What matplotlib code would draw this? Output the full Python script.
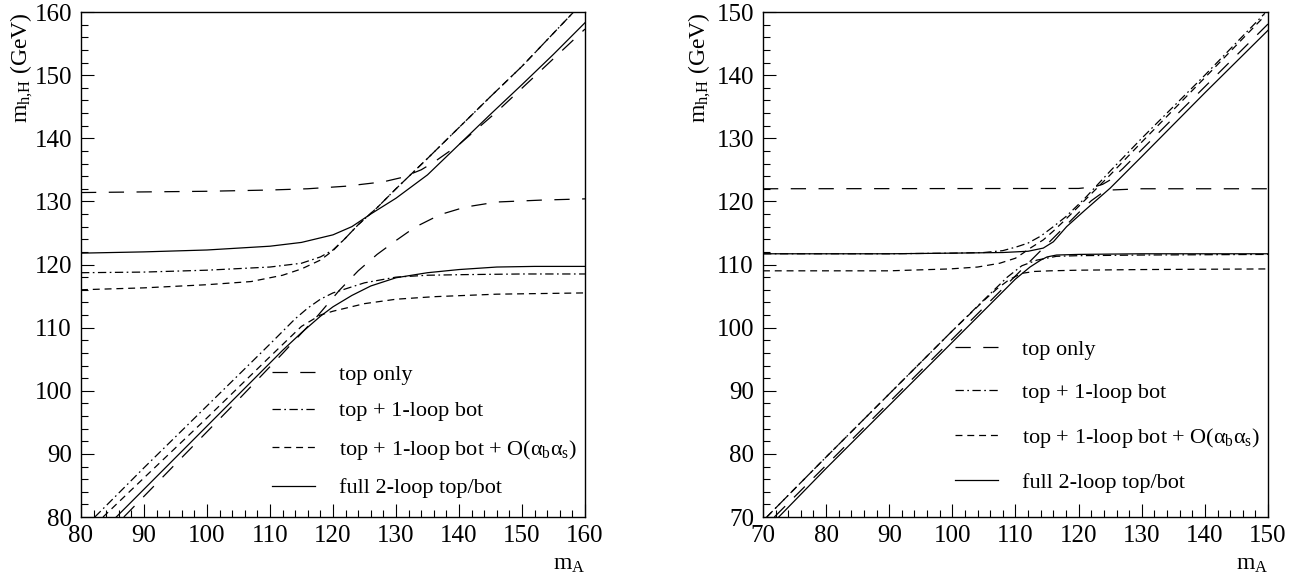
import matplotlib
matplotlib.use("Agg")
import matplotlib.pyplot as plt
from matplotlib.lines import Line2D
from matplotlib.ticker import MultipleLocator

plt.rcParams["font.family"] = ["Liberation Serif", "DejaVu Serif"]
plt.rcParams["mathtext.fontset"] = "custom"
plt.rcParams["mathtext.rm"] = "Liberation Serif"
plt.rcParams["mathtext.it"] = "Liberation Serif"
plt.rcParams["mathtext.bf"] = "Liberation Serif:bold"
plt.rcParams["lines.scale_dashes"] = False

# ---------------- left panel: m_A 80..160 ----------------
# top only
l_top_hi_x = [80, 90, 100, 110, 116, 122, 128, 131, 134, 136, 140, 146, 152, 160]
l_top_hi_y = [131.4, 131.5, 131.6, 131.8, 132.0, 132.4, 133.1, 133.8, 135.0, 136.2, 139.0, 144.2, 149.8, 157.3]
l_top_lo_x = [86.8, 95, 105, 112, 117.5, 121, 124, 127, 130, 133, 137, 141, 146, 153, 160]
l_top_lo_y = [80, 88.4, 98.6, 105.9, 111.8, 115.9, 119.0, 121.6, 123.8, 125.9, 127.9, 129.1, 129.9, 130.2, 130.4]
# top + 1-loop bot
l_b1_hi_x = [80, 90, 100, 110, 115, 118, 120, 122, 124, 127, 130, 135, 140, 145, 150, 158.2]
l_b1_hi_y = [118.7, 118.8, 119.1, 119.6, 120.2, 121.2, 122.3, 124.2, 126.3, 129.0, 132.0, 136.8, 141.7, 146.6, 151.4, 160]
l_b1_lo_x = [82.2, 90, 100, 110, 114, 116, 118, 120, 125, 130, 135, 141, 150, 160]
l_b1_lo_y = [80, 87.8, 97.6, 107.4, 111.4, 113.1, 114.5, 115.5, 117.1, 118.0, 118.3, 118.4, 118.5, 118.5]
# top + 1-loop bot + O(ab as)
l_ab_hi_x = [80, 90, 100, 107, 112, 115, 118, 120, 122, 124, 127, 130, 135, 140, 145, 150, 158.2]
l_ab_hi_y = [116.0, 116.3, 116.8, 117.3, 118.3, 119.3, 120.7, 122.2, 124.2, 126.3, 129.0, 132.0, 136.8, 141.7, 146.6, 151.4, 160]
l_ab_lo_x = [83.5, 90, 100, 110, 115, 118, 120, 125, 130, 136, 146, 160]
l_ab_lo_y = [80, 86.2, 95.7, 105.4, 110.2, 112.0, 112.6, 113.8, 114.5, 114.9, 115.3, 115.5]
# full 2-loop top/bot
l_full_hi_x = [80, 90, 100, 110, 115, 120, 123, 126, 130, 135, 140, 145, 150, 155, 160]
l_full_hi_y = [121.8, 122.0, 122.3, 122.9, 123.5, 124.7, 126.0, 128.0, 130.5, 134.2, 139.0, 143.8, 148.5, 153.3, 158.3]
l_full_lo_x = [85.6, 95, 105, 112, 115, 118, 120, 123, 126, 130, 135, 140, 146, 152, 160]
l_full_lo_y = [80, 89.4, 99.4, 106.4, 109.2, 111.8, 113.3, 115.1, 116.6, 117.9, 118.7, 119.2, 119.6, 119.7, 119.7]

# ---------------- right panel: m_A 70..150 ----------------
r_top_hi_x = [70, 120, 122.5, 123.8, 125, 127, 135, 150]
r_top_hi_y = [122.0, 122.05, 122.3, 122.7, 123.4, 125.2, 133.2, 148.1]
r_top_lo_x = [71.8, 90, 110, 120, 122, 123.8, 125, 130, 150]
r_top_lo_y = [70, 88.2, 108.2, 118.2, 120.1, 121.4, 121.8, 122.0, 122.0]
r_b1_hi_x = [70, 90, 100, 105, 108, 110.2, 112, 114, 116, 118, 121, 125, 130, 140, 149.5]
r_b1_hi_y = [111.7, 111.7, 111.8, 111.9, 112.2, 112.8, 113.4, 114.5, 116.0, 117.6, 120.5, 124.8, 130.0, 140.0, 149.8]
r_b1_lo_x = [70.6, 80, 90, 100, 105, 108.7, 111, 113.4, 116.5, 120, 130, 150]
r_b1_lo_y = [70, 79.5, 89.5, 99.5, 104.4, 108.0, 109.8, 110.7, 111.3, 111.4, 111.5, 111.6]
r_ab_hi_x = [70, 90, 99.6, 104, 107.5, 110, 111.2, 112.5, 114.4, 116, 118, 121, 125, 130, 140, 149.5]
r_ab_hi_y = [109.0, 109.0, 109.3, 109.6, 110.2, 111.0, 111.8, 112.7, 113.9, 115.3, 117.2, 120.2, 124.2, 129.4, 139.6, 149.4]
r_ab_lo_x = [70.6, 80, 90, 100, 105, 107, 109, 111, 113, 115.5, 120, 130, 150]
r_ab_lo_y = [70, 79.5, 89.5, 99.5, 104.3, 106.1, 107.6, 108.6, 108.9, 109.0, 109.1, 109.2, 109.3]
r_full_hi_x = [70, 90, 100, 108, 112, 114.4, 116, 118.1, 121, 125, 130, 140, 150]
r_full_hi_y = [111.7, 111.7, 111.8, 111.9, 112.1, 112.6, 113.6, 116.0, 118.6, 122.1, 127.1, 137.2, 147.1]
r_full_lo_x = [72.5, 80, 90, 100, 106, 110, 112.3, 114, 115, 116.5, 120, 130, 150]
r_full_lo_y = [70, 77.7, 87.7, 97.7, 103.7, 107.7, 109.6, 110.7, 111.2, 111.5, 111.6, 111.7, 111.7]

labels = ["top only", "top + 1-loop bot",
          r"top + 1-loop bot + O($\alpha_\mathrm{b}\alpha_\mathrm{s}$)",
          "full 2-loop top/bot"]
styles = [(0, (11, 9)), (0, (6, 2.5, 1.2, 2.5)), (0, (5, 3.5)), "-"]

left_curves = [
    [(l_top_hi_x, l_top_hi_y), (l_top_lo_x, l_top_lo_y)],
    [(l_b1_hi_x, l_b1_hi_y), (l_b1_lo_x, l_b1_lo_y)],
    [(l_ab_hi_x, l_ab_hi_y), (l_ab_lo_x, l_ab_lo_y)],
    [(l_full_hi_x, l_full_hi_y), (l_full_lo_x, l_full_lo_y)],
]
right_curves = [
    [(r_top_hi_x, r_top_hi_y), (r_top_lo_x, r_top_lo_y)],
    [(r_b1_hi_x, r_b1_hi_y), (r_b1_lo_x, r_b1_lo_y)],
    [(r_ab_hi_x, r_ab_hi_y), (r_ab_lo_x, r_ab_lo_y)],
    [(r_full_hi_x, r_full_hi_y), (r_full_lo_x, r_full_lo_y)],
]

LW = 0.9


def draw_panel(ax, curves, lim, leg_anchor, leg_spacing, ylab_x):
    for branches, ls in zip(curves, styles):
        for xs, ys in branches:
            ax.plot(xs, ys, color="black", lw=LW, linestyle=ls)
    ax.set_xlim(*lim)
    ax.set_ylim(*lim)
    ax.xaxis.set_major_locator(MultipleLocator(10))
    ax.yaxis.set_major_locator(MultipleLocator(10))
    ax.xaxis.set_minor_locator(MultipleLocator(2))
    ax.yaxis.set_minor_locator(MultipleLocator(2))
    ax.tick_params(which="both", direction="in", top=False, right=False,
                   width=0.8, labelsize=18)
    ax.tick_params(which="major", length=9.4)
    ax.tick_params(which="minor", length=5)
    ax.tick_params(axis="y", pad=6.5)
    ax.tick_params(axis="x", pad=5.5)
    for sp in ax.spines.values():
        sp.set_linewidth(1.0)
    ax.text(ylab_x, 1.0, r"$\mathrm{m_{h{,}H}}$ (GeV)", transform=ax.transAxes,
            rotation=90, ha="center", va="top", fontsize=17)
    ax.text(1.0, -0.105, r"$\mathrm{m_A}$", transform=ax.transAxes,
            ha="right", va="baseline", fontsize=17)
    handles = [Line2D([], [], color="black", lw=LW, linestyle=ls) for ls in styles]
    ax.legend(handles, labels, loc="upper left", bbox_to_anchor=leg_anchor,
              frameon=False, fontsize=16, handlelength=1.95, handletextpad=1.05,
              labelspacing=leg_spacing, borderpad=0, borderaxespad=0)


fig = plt.figure(figsize=(13.02, 5.83), dpi=100)
ax1 = fig.add_axes([0.0622, 0.1132, 0.3871, 0.8662])
ax2 = fig.add_axes([0.5860, 0.1132, 0.3879, 0.8662])

draw_panel(ax1, left_curves, (80, 160), (0.379, 0.303), 0.73, -0.117)
draw_panel(ax2, right_curves, (70, 150), (0.380, 0.352), 1.02, -0.125)

fig.savefig("out.png", dpi=100)
